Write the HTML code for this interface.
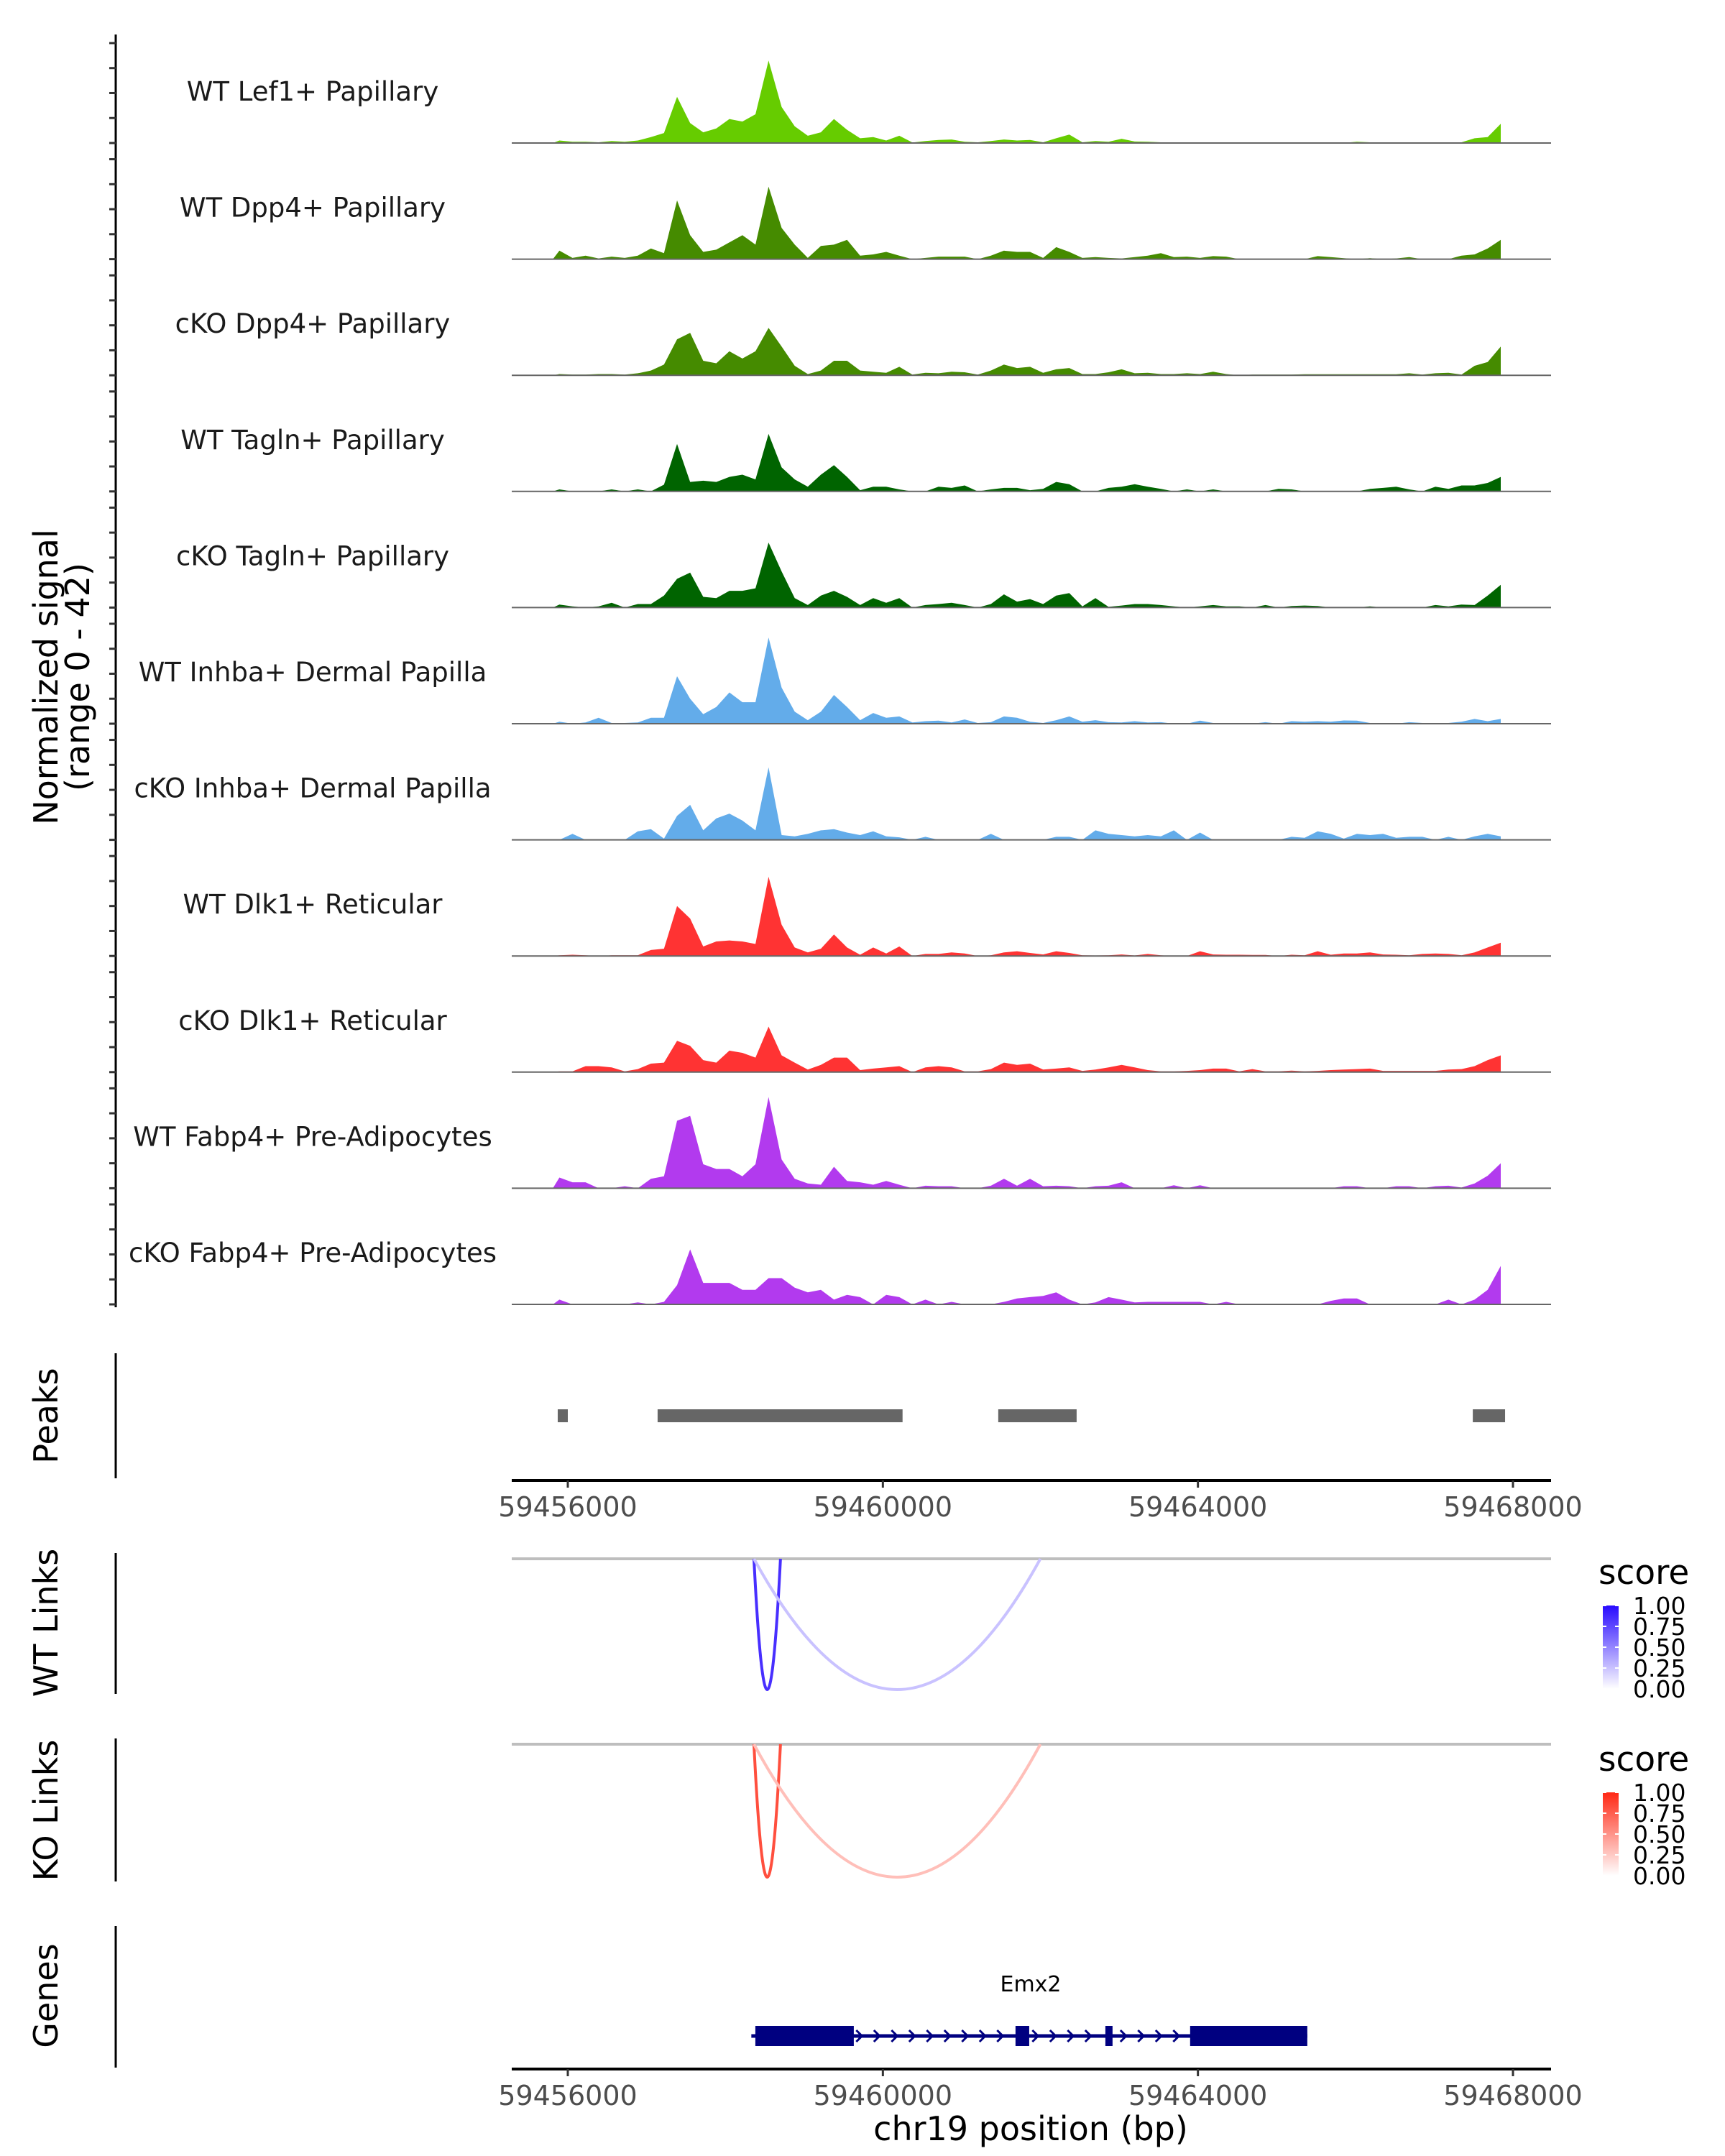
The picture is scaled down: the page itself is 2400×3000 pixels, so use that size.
<!DOCTYPE html>
<html><head><meta charset="utf-8"><style>
html,body{margin:0;padding:0;background:#fff;}
svg{display:block;font-family:"DejaVu Sans","Liberation Sans",sans-serif;}
</style></head><body>
<svg id="fig" width="2400" height="3000" viewBox="0 0 2400 3000" xmlns="http://www.w3.org/2000/svg">
<rect width="2400" height="3000" fill="#fff"/>
<g id="tracks"></g>
<line x1="161" y1="48" x2="161" y2="1819" stroke="#000" stroke-width="3"/>
<g id="yticks"></g>
<text transform="translate(80,942) rotate(-90)" text-anchor="middle" font-size="46" fill="#000">Normalized signal</text>
<text transform="translate(124,942) rotate(-90)" text-anchor="middle" font-size="46" fill="#000">(range 0 - 42)</text>

<line x1="161" y1="1883" x2="161" y2="2057" stroke="#000" stroke-width="3"/>
<text transform="translate(80,1970) rotate(-90)" text-anchor="middle" font-size="46">Peaks</text>
<g id="peaks"></g>
<g id="axis1"></g>

<line x1="161" y1="2161" x2="161" y2="2357" stroke="#000" stroke-width="3"/>
<text transform="translate(80,2258) rotate(-90)" text-anchor="middle" font-size="46">WT Links</text>
<g id="wtlinks"></g>

<line x1="161" y1="2419" x2="161" y2="2618" stroke="#000" stroke-width="3"/>
<text transform="translate(80,2519) rotate(-90)" text-anchor="middle" font-size="46">KO Links</text>
<g id="kolinks"></g>

<line x1="161" y1="2680" x2="161" y2="2877" stroke="#000" stroke-width="3"/>
<text transform="translate(80,2777) rotate(-90)" text-anchor="middle" font-size="46">Genes</text>
<g id="genes"></g>
<g id="axis2"></g>
<text x="1434" y="2978" text-anchor="middle" font-size="46">chr19 position (bp)</text>
</svg>
<script>
const binStart = 59455810;
const binStep = 166;
const trackNames = ["WT Lef1+ Papillary","WT Dpp4+ Papillary","cKO Dpp4+ Papillary","WT Tagln+ Papillary","cKO Tagln+ Papillary","WT Inhba+ Dermal Papilla","cKO Inhba+ Dermal Papilla","WT Dlk1+ Reticular","cKO Dlk1+ Reticular","WT Fabp4+ Pre-Adipocytes","cKO Fabp4+ Pre-Adipocytes"];
const trackColors = ["#66cc00","#458b00","#458b00","#006400","#006400","#63acea","#63acea","#ff3333","#ff3333","#b23aee","#b23aee"];
const sigLef1WT = [1,0.5,0.5,0.3,0.8,0.5,1,2.4,4,18.5,8,4.3,5.8,9.6,8.6,11.5,33,14.4,6.7,2.9,4.3,9.6,5.3,1.9,2.4,1,2.9,0.2,0.8,1.2,1.4,0.5,0.3,0.8,1.4,1,1.2,0.3,1.9,3.4,0.3,0.8,0.5,1.7,0.6,0.5,0.3,0.2,0.2,0.2,0.2,0.2,0.1,0.1,0.1,0.1,0.1,0.1,0.1,0.1,0.1,0.5,0.3,0.1,0.1,0.1,0.1,0.1,0.3,0.3,1.9,2.4,7.7];
const sigDpp4WT = [3.4,0.5,1.4,0.3,1,0.5,1.4,4.3,2.4,23.5,9.6,2.9,3.8,6.7,9.6,5.8,29,12.5,5.8,0.5,5.3,5.8,7.7,1.4,1.9,2.9,1.4,0,0.5,1,1,1,0,1.4,3.4,2.9,2.9,0.5,4.8,2.9,0.5,0.8,0.5,0.3,0.8,1.4,2.4,0.8,1,0.5,1.2,1,0,0,0,0,0,0,1.2,0.8,0.4,0,0.4,0,0.3,0.8,0,0,0,1.4,1.9,4.3,7.7];
const sigDpp4KO = [0.5,0.3,0.3,0.5,0.5,0.3,0.8,1.9,4.3,14.4,17,5.8,4.8,9.6,6.7,9.6,19,11.5,3.8,0.5,1.9,5.8,5.8,1.9,1.4,1,3.4,0.3,1,0.8,1.4,1.2,0.3,1.9,4.3,2.9,3.4,1,2.4,2.9,0.5,0.5,1.2,2.4,0.8,1,0.5,0.5,0.8,0.5,1.4,0.5,0,0.3,0.3,0.3,0.3,0.4,0.4,0.4,0.4,0.4,0.4,0.4,0.4,0.8,0.3,0.8,1,0.3,3.8,5.3,11.5];
const sigTaglnWT = [0.8,0,0,0,0.8,0,0.8,0,2.7,19,3.8,4.3,3.8,5.8,6.7,4.8,23,9.6,4.8,1.9,6.7,10.5,5.8,0.5,1.9,1.9,0.8,0,0,1.9,1.4,2.4,0,0.8,1.4,1.4,0.5,1,3.8,2.9,0,0,1.4,1.9,2.9,1.9,1,0,0.8,0,0.8,0,0,0,0,1,0.8,0,0,0,0,0,1,1.4,1.9,0.8,0,1.9,1,2.4,2.4,3.4,5.8];
const sigTaglnKO = [1.2,0.5,0,0.5,1.9,0,1.4,1.4,4.8,11.5,14,4.3,3.8,6.7,6.7,7.7,26,14.4,3.8,1,4.8,6.7,4.3,1,3.8,1.9,3.8,0,1,1.4,1.9,1,0,1.4,5.3,2.4,3.4,1.4,4.8,5.8,0.5,3.8,0.3,0.8,1.4,1.4,1,0.5,0,0.5,1,0.5,0.5,0,1,0,0.6,0.8,0.6,0,0,0,0.5,0,0,0,0,1,0.5,1.2,1,4.8,9.1];
const sigInhbaWT = [0.8,0,0.5,2.4,0.3,0.3,0.5,2.4,2.4,19,10,3.8,6.7,12.5,8.6,8.6,34.5,14.4,4.8,1.4,4.8,11.5,6.7,1.4,4.3,2.4,2.9,0.5,1,1.2,0.5,1.7,0.3,0.6,2.9,2.4,0.8,0.3,1.4,2.9,0.8,1.4,0.6,0.5,1,0.5,0.6,0,0,1.2,0.3,0,0,0,0.6,0,1,0.8,1,0.8,1.3,1.2,0.3,0,0,0.6,0.3,0,0.3,0.8,1.9,1,1.9];
const sigInhbaKO = [0,2.4,0,0,0,0,3.4,4.3,0.5,9.6,14,3.8,8.6,10.5,7.7,3.8,29,1.9,1.4,2.4,3.8,4.3,2.9,1.9,3.4,1.4,1,0,1.2,0,0,0,0,2.4,0,0,0,0,1.2,1.2,0,3.8,2.4,1.9,1.4,1.9,1.4,3.8,0,2.9,0,0,0,0,0,0,1.2,0.8,3.4,2.4,0.5,2.4,1.9,2.4,0.8,1.2,1.2,0,1.2,0,1.4,2.4,1.4];
const sigDlk1WT = [0.3,0.5,0.3,0,0.3,0.3,0.3,2.4,2.9,20,15,3.8,5.8,6.2,5.8,4.8,31.7,12.5,3.4,1.4,2.9,8.6,3.4,0.5,3.4,1,3.8,0,0.8,0.8,1.4,1,0,0.3,1.4,1.9,1.2,0.6,1.9,1.2,0.3,0.2,0.3,0.6,0.2,0.8,0.3,0,0,1.9,0.6,0.5,0.5,0.4,0.4,0,0.5,0.3,1.9,0.5,1,1,1.4,0.6,0.5,0.3,0.8,1,0.8,0.3,1.4,3.4,5.3];
const sigDlk1KO = [0.3,0.3,2.4,2.4,1.9,0.3,1.2,3.4,3.8,12.5,10.5,4.8,3.8,8.6,7.7,5.8,18.2,6.7,3.8,1,2.9,5.8,5.8,0.8,1.4,1.9,2.4,0,1.9,2.4,1.9,0.3,0.3,1.2,3.8,2.9,3.4,1,1.4,1.9,0.5,1,1.9,2.9,1.9,0.8,0.3,0.3,0.5,0.8,1.4,1.4,0.3,1.2,0.3,0.3,0.6,0.3,0.5,0.8,1,1.2,1.4,0.5,0.5,0.5,0.5,0.5,1,1.2,2.4,4.8,6.7];
const sigFabp4WT = [4.3,2.4,2.4,0,0,0.8,0,3.8,4.8,27,29,9.6,7.7,7.7,4.8,9.6,36.5,11.5,3.8,1.9,1.4,8.6,2.9,2.4,1.4,2.9,1.4,0,1,0.8,0.8,0,0,1,3.8,1,3.8,0.8,1,0.8,0,0.8,1,2.4,0,0,0,1.2,0,1.2,0,0,0,0,0,0,0,0,0,0,0.8,0.8,0,0,0.8,0.8,0,0.8,1,0.3,1.9,5,10];
const sigFabp4KO = [1.9,0,0,0,0,0,0.8,0,1,7.7,22,8.6,8.6,8.6,5.8,5.8,10.5,10.5,6.7,4.8,5.8,1.9,3.8,2.9,0,3.8,2.9,0,1.9,0,1,0,0,0,1,2.4,2.9,3.4,4.8,1.9,0,0.8,2.9,1.9,0.8,1,1,1,1,1,0,1,0,0,0,0,0,0,0,1.4,2.4,2.4,0,0,0,0,0,0,1.9,0,1.9,5.8,15.4];
const signals = [sigLef1WT,sigDpp4WT,sigDpp4KO,sigTaglnWT,sigTaglnKO,sigInhbaWT,sigInhbaKO,sigDlk1WT,sigDlk1KO,sigFabp4WT,sigFabp4KO];
const yMax = 42;
const peakStarts = [59455872,59457140,59461465,59467490];
const peakEnds = [59456000,59460250,59462460,59467900];
const xTicks = [59456000,59460000,59464000,59468000];
const wtLinkStarts = [59458363,59458363];
const wtLinkEnds = [59458700,59462000];
const wtLinkScores = [0.85,0.25];
const koLinkStarts = [59458363,59458363];
const koLinkEnds = [59458700,59462000];
const koLinkScores = [0.82,0.3];
const legendLabels = ["1.00","0.75","0.50","0.25","0.00"];
const geneName = "Emx2";
const geneStart = 59458330;
const geneEnd = 59465389;
const exonStarts = [59458381,59461684,59462825,59463901];
const exonEnds = [59459631,59461858,59462916,59465389];

const NS = "http://www.w3.org/2000/svg";
function mk(tag, attrs, parent){const e=document.createElementNS(NS,tag);for(const k in attrs)e.setAttribute(k,attrs[k]);parent.appendChild(e);return e;}
function xScale(bp){return 790 + (bp-59456000)*0.109583;}
const trackTop0 = 199, trackGap = 161.6, pxPerUnit = 146/yMax;

const tg = document.getElementById('tracks');
const yt = document.getElementById('yticks');
signals.forEach((vals, k) => {
  const base = trackTop0 + k*trackGap;
  const g = mk('g', {}, tg);
  
  
  let pts = [[xScale(binStart), base]];
  vals.forEach((v,i) => {
    const bx = xScale(binStart + (i+0.5)*binStep);
    pts.push([bx, base - v*pxPerUnit]);
  });
  const last = xScale(binStart + vals.length*binStep - binStep*0.5);
  pts.push([last, base]);
  const area = mk('polygon', {points: pts.map(p=>p[0].toFixed(1)+','+p[1].toFixed(1)).join(' '), fill: trackColors[k]}, g);
  
  
  const bl = mk('line', {x1:712, x2:2158, y1:base, y2:base, stroke:'#666', 'stroke-width':2}, g);
  
  
  const lab = mk('text', {x:435, y:base-59, 'text-anchor':'middle', 'font-size':37, fill:'#1a1a1a'}, g);
  lab.textContent = trackNames[k];
  
  
  [0,10,20,30,40].forEach(v => {
    const t = mk('line', {x1:152, x2:161, y1:base-v*pxPerUnit, y2:base-v*pxPerUnit, stroke:'#333', 'stroke-width':3}, yt);
    
    
  });
});

const pk = document.getElementById('peaks');
peakStarts.forEach((s,i) => {
  const x0 = xScale(s), x1 = xScale(peakEnds[i]);
  const r = mk('rect', {x:x0, y:1961, width:Math.max(x1-x0,8), height:18, fill:'#666'}, pk);
  
  
});

function drawAxis(gid, y){
  const g = document.getElementById(gid);
  const l = mk('line', {x1:712, x2:2158, y1:y, y2:y, stroke:'#000', 'stroke-width':4}, g);
  
  
  xTicks.forEach(t => {
    const x = xScale(t);
    const tk = mk('line', {x1:x, x2:x, y1:y, y2:y+10, stroke:'#333', 'stroke-width':3}, g);
    
    
    const tl = mk('text', {x:x, y:y+50, 'text-anchor':'middle', 'font-size':38, fill:'#4d4d4d'}, g);
    tl.textContent = String(t);
    
    
  });
}
drawAxis('axis1', 2060);
drawAxis('axis2', 2879);

function mix(hi, s){return 'rgb('+hi.map(c=>Math.round(255+(c-255)*s)).join(',')+')';}
function drawLinks(gid, y0, y1, starts, ends, scores, hi, legY){
  const g = document.getElementById(gid);
  const gl = mk('line', {x1:712, x2:2158, y1:y0, y2:y0, stroke:'#bebebe', 'stroke-width':4}, g);
  
  
  const depth = y1 - y0;
  starts.forEach((s,i) => {
    const a = xScale(s), b = xScale(ends[i]);
    const p = mk('path', {d:`M${a},${y0} Q${(a+b)/2},${y0+2*depth} ${b},${y0}`, fill:'none', stroke:mix(hi,scores[i]), 'stroke-width':4}, g);
    
    
  });
  const lt = mk('text', {x:2224, y:legY, 'font-size':47, fill:'#000'}, g);
  lt.textContent = 'score';
  
  
  const id = gid + 'grad';
  const defs = mk('defs', {}, g);
  const lg = mk('linearGradient', {id:id, x1:0, y1:1, x2:0, y2:0}, defs);
  mk('stop', {offset:0, 'stop-color':'#fff'}, lg);
  mk('stop', {offset:1, 'stop-color':mix(hi,1)}, lg);
  const by0 = legY + 30, bh = 116;
  const bar = mk('rect', {x:2230, y:by0, width:22, height:bh, fill:`url(#${id})`}, g);
  
  
  legendLabels.forEach((t,i) => {
    const yy = by0 + i*bh/4;
    mk('line', {x1:2230, x2:2235, y1:yy, y2:yy, stroke:'#fff', 'stroke-width':2}, g);
    mk('line', {x1:2247, x2:2252, y1:yy, y2:yy, stroke:'#fff', 'stroke-width':2}, g);
    const tx = mk('text', {x:2272, y:yy+12, 'font-size':33, fill:'#000'}, g);
    tx.textContent = t;
    
    
  });
}
drawLinks('wtlinks', 2169, 2351, wtLinkStarts, wtLinkEnds, wtLinkScores, [40,10,255], 2204);
drawLinks('kolinks', 2427, 2612, koLinkStarts, koLinkEnds, koLinkScores, [255,40,20], 2464);

const gg = document.getElementById('genes');
const gy = 2833;
const gl = mk('line', {x1:xScale(geneStart), x2:xScale(geneEnd), y1:gy, y2:gy, stroke:'#000080', 'stroke-width':5}, gg);


const gx0 = xScale(geneStart), gx1 = xScale(geneEnd);
for (let x = gx0 + 4; x < gx1; x += 24.5) {
  const inEx = exonStarts.some((s,i)=> x > xScale(s)-8 && x < xScale(exonEnds[i])+8);
  if (inEx) continue;
  const c = mk('polyline', {points:`${x-5},${gy-8} ${x+3},${gy} ${x-5},${gy+8}`, fill:'none', stroke:'#000080', 'stroke-width':3}, gg);
  
  
}
exonStarts.forEach((s,i) => {
  const x0 = xScale(s), x1 = xScale(exonEnds[i]);
  const r = mk('rect', {x:x0, y:gy-14, width:Math.max(x1-x0,6), height:28, fill:'#000080'}, gg);
  
  
});
const gn = mk('text', {x:1434, y:2771, 'text-anchor':'middle', 'font-size':30, fill:'#000'}, gg);
gn.textContent = geneName;


</script>
</body></html>
